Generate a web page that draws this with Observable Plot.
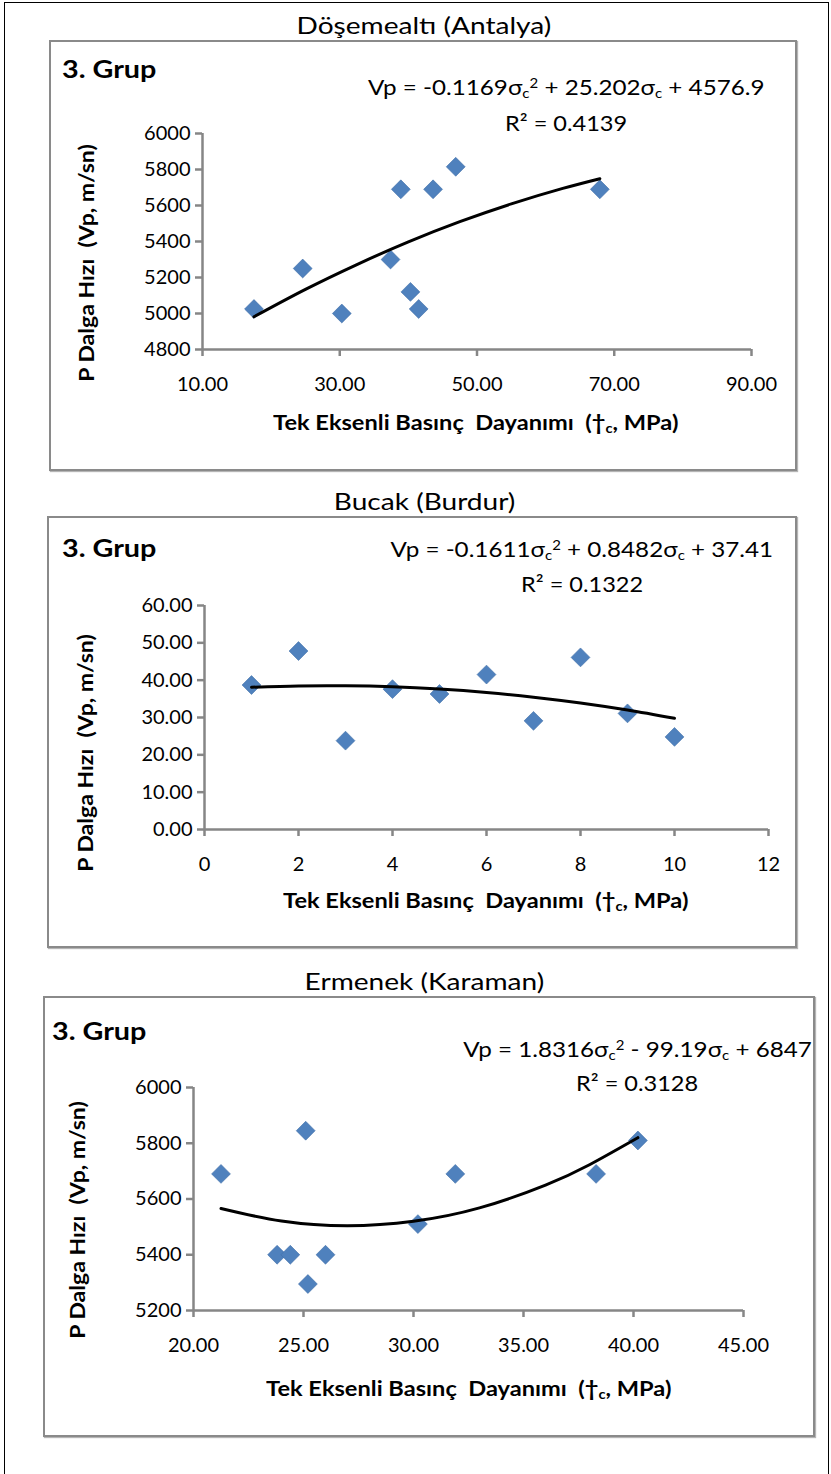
<!DOCTYPE html>
<html><head><meta charset="utf-8">
<script src="https://cdn.jsdelivr.net/npm/d3@7"></script>
<script src="https://cdn.jsdelivr.net/npm/@observablehq/plot@0.6"></script>
<style>
body{margin:0;background:#fff;font-family:Lato,"Open Sans",sans-serif;}
#page{position:relative;width:831px;height:1474px;overflow:hidden;background:#fff;}
.frame{position:absolute;left:4px;top:2px;width:825px;height:1520px;border:1.5px solid #000;box-sizing:border-box;}
.box{position:absolute;border:2px solid #8a8a8a;box-shadow:1px 1px 1px #b5b5b5;background:#fff;box-sizing:border-box;}
.t{position:absolute;white-space:nowrap;color:#000;line-height:1;transform-origin:50% 50%;}
.b{font-weight:bold;}
svg.p{position:absolute;left:0;}
sub{font-size:62%;vertical-align:-0.25em;}
sup{font-size:62%;vertical-align:0.55em;}
</style></head><body><div id="page"><div class="frame"></div></div>
<script>
// ---------- data ----------
const titles = ["Döşemealtı (Antalya)", "Bucak (Burdur)", "Ermenek (Karaman)"];
const groupLabel = "3. Grup";
const yTitle = "P Dalga Hızı&nbsp; (Vp, m/sn)";

// Panel 1: Döşemealtı
const p1X = [17.5, 24.6, 30.3, 37.4, 38.9, 40.3, 41.5, 43.6, 46.9, 67.9];
const p1Y = [5025, 5250, 5000, 5300, 5690, 5120, 5025, 5690, 5815, 5690];
const p1TrendX = [17.5, 25, 32.5, 40, 47.5, 55, 62.5, 67.9];
const p1TrendY = [4982, 5134, 5272, 5398, 5510, 5609, 5695, 5749];
const p1XTicks = [10, 30, 50, 70, 90];
const p1YTicks = [4800, 5000, 5200, 5400, 5600, 5800, 6000];
const p1Eq = "Vp = -0.1169σ<sub>c</sub><sup>2</sup> + 25.202σ<sub>c</sub> + 4576.9";
const p1R2 = "R² = 0.4139";

// Panel 2: Bucak
const p2X = [1, 2, 3, 4, 5, 6, 7, 8, 9, 10];
const p2Y = [38.7, 47.8, 23.8, 37.6, 36.3, 41.5, 29.1, 46.1, 31.1, 24.8];
const p2TrendX = [1, 2, 3, 4, 5, 6, 7, 8, 9, 10];
const p2TrendY = [38.10, 38.46, 38.50, 38.23, 37.62, 36.70, 35.45, 33.89, 32.00, 29.78];
const p2XTicks = [0, 2, 4, 6, 8, 10, 12];
const p2YTicks = [0, 10, 20, 30, 40, 50, 60];
const p2Eq = "Vp = -0.1611σ<sub>c</sub><sup>2</sup> + 0.8482σ<sub>c</sub> + 37.41";
const p2R2 = "R² = 0.1322";

// Panel 3: Ermenek
const p3X = [21.25, 23.8, 24.4, 25.1, 25.2, 26.0, 30.2, 31.9, 38.3, 40.2];
const p3Y = [5690, 5400, 5400, 5845, 5295, 5400, 5510, 5690, 5690, 5810];
const p3TrendX = [21.25, 24, 27, 30, 33, 36, 38, 40.2];
const p3TrendY = [5566, 5521, 5504, 5520, 5568, 5650, 5723, 5820];
const p3XTicks = [20, 25, 30, 35, 40, 45];
const p3YTicks = [5200, 5400, 5600, 5800, 6000];
const p3Eq = "Vp = 1.8316σ<sub>c</sub><sup>2</sup> - 99.19σ<sub>c</sub> + 6847";
const p3R2 = "R² = 0.3128";

const xTitleHTML = "Tek Eksenli Basınç&nbsp; Dayanımı&nbsp; (†<sub>c</sub>, MPa)";

// ---------- layout ----------
const panels = [
  {title: titles[0], titleY: 25,
   box: {l: 49, t: 40, w: 748, h: 431},
   plot: {x0: 202, x1: 751, y0: 133, y1: 349},
   xDom: [10, 90], yDom: [4800, 6000], xTicks: p1XTicks, yTicks: p1YTicks,
   xFmt: d3.format(".2f"), yFmt: d3.format("d"),
   xs: p1X, ys: p1Y, tx: p1TrendX, ty: p1TrendY,
   eq: p1Eq, r2: p1R2, eqX: 566, eqY: 88, r2Y: 123,
   grupX: 62, grupY: 68, yTX: 86, yTY: 263, xTX: 475, xTY: 424},
  {title: titles[1], titleY: 501,
   box: {l: 47, t: 516, w: 750, h: 432},
   plot: {x0: 204, x1: 768, y0: 605, y1: 829},
   xDom: [0, 12], yDom: [0, 60], xTicks: p2XTicks, yTicks: p2YTicks,
   xFmt: d3.format("d"), yFmt: d3.format(".2f"),
   xs: p2X, ys: p2Y, tx: p2TrendX, ty: p2TrendY,
   eq: p2Eq, r2: p2R2, eqX: 582, eqY: 550, r2Y: 584,
   grupX: 62, grupY: 547, yTX: 85, yTY: 753, xTX: 485, xTY: 902},
  {title: titles[2], titleY: 981,
   box: {l: 43, t: 996, w: 772, h: 441},
   plot: {x0: 193, x1: 743, y0: 1087, y1: 1310},
   xDom: [20, 45], yDom: [5200, 6000], xTicks: p3XTicks, yTicks: p3YTicks,
   xFmt: d3.format(".2f"), yFmt: d3.format("d"),
   xs: p3X, ys: p3Y, tx: p3TrendX, ty: p3TrendY,
   eq: p3Eq, r2: p3R2, eqX: 637, eqY: 1050, r2Y: 1083,
   grupX: 52, grupY: 1030, yTX: 77, yTY: 1220, xTX: 468, xTY: 1390}
];

const page = document.getElementById("page");
// Place text centred at (x, y) (or left-anchored), stretched horizontally by sx, optionally rotated.
function addText(html, x, y, opts) {
  const d = document.createElement("div");
  d.className = "t" + (opts.bold ? " b" : "");
  d.style.fontSize = opts.size + "px";
  d.innerHTML = html;
  page.appendChild(d);
  const w = d.offsetWidth, h = d.offsetHeight;
  const sx = opts.sx || 1;
  if (opts.left) {
    d.style.transformOrigin = "0 50%";
    d.style.left = x + "px"; d.style.top = (y - h / 2) + "px";
    d.style.transform = `scaleX(${sx})`;
  } else {
    d.style.left = (x - w / 2) + "px"; d.style.top = (y - h / 2) + "px";
    d.style.transform = (opts.rot ? "rotate(-90deg) " : "") + `scaleX(${sx})`;
  }
  return d;
}

const axisGray = "#868686";
for (const p of panels) {
  const box = document.createElement("div");
  box.className = "box";
  Object.assign(box.style, {left: p.box.l + "px", top: p.box.t + "px", width: p.box.w + "px", height: p.box.h + "px"});
  page.appendChild(box);

  addText(p.title, 424, p.titleY, {size: 24, sx: 1.17});

  const top = p.box.t, H = p.box.h;
  const pts = p.xs.map((x, i) => ({x, y: p.ys[i]}));
  const trend = p.tx.map((x, i) => ({x, y: p.ty[i]}));
  const svg = Plot.plot({
    width: 831, height: H,
    marginLeft: p.plot.x0, marginRight: 831 - p.plot.x1,
    marginTop: p.plot.y0 - top, marginBottom: top + H - p.plot.y1,
    x: {domain: p.xDom, axis: null},
    y: {domain: p.yDom, axis: null},
    style: {background: "transparent", fontFamily: "Lato, 'Open Sans', sans-serif", fontSize: "20px", color: "#000", overflow: "visible"},
    marks: [
      Plot.axisY({ticks: p.yTicks, tickFormat: p.yFmt, tickSize: 7, tickPadding: 5, stroke: axisGray, strokeWidth: 2.5, fill: "#000", fontSize: 20, label: null}),
      Plot.axisX({ticks: p.xTicks, tickFormat: p.xFmt, tickSize: 7, tickPadding: 20, stroke: axisGray, strokeWidth: 2.5, fill: "#000", fontSize: 20, label: null}),
      Plot.ruleX([p.xDom[0]], {stroke: axisGray, strokeWidth: 2.5}),
      Plot.ruleY([p.yDom[0]], {stroke: axisGray, strokeWidth: 2.5}),
      Plot.dot(pts, {x: "x", y: "y", symbol: "diamond2", r: 8.5, fill: "#4F81BD", stroke: "#3F6FA8", strokeWidth: 0.6}),
      Plot.line(trend, {x: "x", y: "y", stroke: "#000", strokeWidth: 3, curve: "natural"})
    ]
  });
  svg.classList.add("p");
  svg.style.top = top + "px";
  page.appendChild(svg);

  addText(groupLabel, p.grupX, p.grupY, {size: 25, bold: true, sx: 1.15, left: true});
  addText(p.eq, p.eqX, p.eqY, {size: 22, sx: 1.1});
  addText(p.r2, p.eqX, p.r2Y, {size: 22, sx: 1.07});
  addText(yTitle, p.yTX, p.yTY, {size: 20, bold: true, sx: 1.15, rot: true});
  addText(xTitleHTML, p.xTX, p.xTY, {size: 20, bold: true, sx: 1.18});
}
</script>
</body></html>
